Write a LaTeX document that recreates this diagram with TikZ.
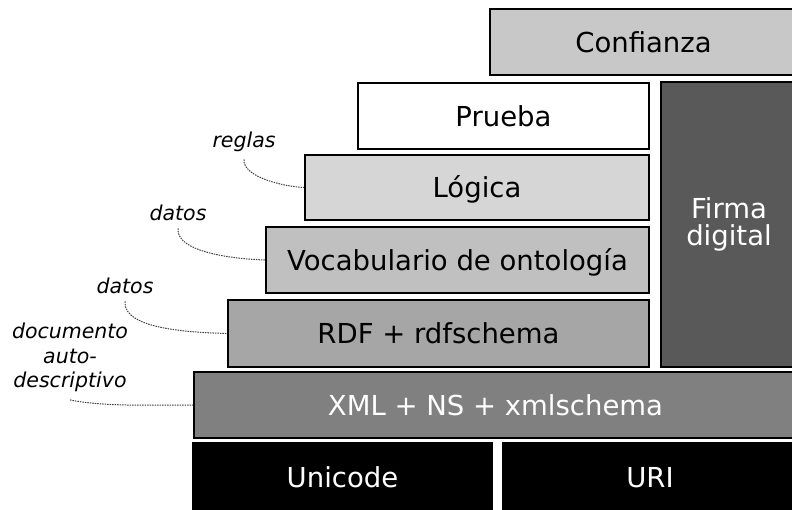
\documentclass[tikz,border=0pt]{standalone}
\usepackage{fontspec}
\setmainfont{DejaVu Sans}
\usepackage{tikz}

\definecolor{grisConf}{HTML}{C8C8C8}
\definecolor{grisLog}{HTML}{D6D6D6}
\definecolor{grisVoc}{HTML}{C0C0C0}
\definecolor{grisRdf}{HTML}{A6A6A6}
\definecolor{grisXml}{HTML}{808080}
\definecolor{grisFirma}{HTML}{595959}

\begin{document}
\begin{tikzpicture}[x=1pt, y=-1pt,
   capa/.style={draw=black, line width=2pt, inner sep=0pt,
      font=\fontsize{27.5}{27}\selectfont, align=center},
   linea/.style={text height=20pt, text depth=0pt},
   nota/.style={font=\fontsize{20.5}{24.5}\selectfont\itshape, align=center,
      inner sep=0pt, outer ysep=8pt},
   enlace/.style={dash pattern=on 1.5pt off 1pt, gray!50!black, line width=1pt}]
   \useasboundingbox (0,0) rectangle (792,509);
   \clip (0,0) rectangle (792,509);

   % capas
   \node[capa, linea, fill=grisConf, minimum width=307, minimum height=66] (confianza) at (643.5,42) {Confianza};
   \node[capa, linea, fill=white, minimum width=291, minimum height=66] (prueba) at (503.5,116) {Prueba};
   \node[capa, fill=grisFirma, text=white, minimum width=136, minimum height=285] (firma) at (729,224.5) {Firma\\digital};
   \node[capa, linea, fill=grisLog, minimum width=344, minimum height=65] (logica) at (477,187.5) {Lógica};
   \node[capa, linea, fill=grisVoc, minimum width=383, minimum height=66] (vocab) at (457.5,260) {Vocabulario de ontología};
   \node[capa, linea, fill=grisRdf, minimum width=421, minimum height=67] (rdf) at (438.5,333.5) {RDF + rdfschema};
   \node[capa, linea, fill=grisXml, text=white, minimum width=603, minimum height=66] (xml) at (495.5,405) {XML + NS + xmlschema};
   \node[capa, linea, fill=black, text=white, minimum width=299, minimum height=69] (unicode) at (342.5,477.5) {Unicode};
   \node[capa, linea, fill=black, text=white, minimum width=294, minimum height=69] (uri) at (650,477.5) {URI};

   % notas
   \node[nota] (reglas) at (244,141.5) {reglas};
   \node[nota] (datosA) at (178,212.5) {datos};
   \node[nota] (datosB) at (125,285.5) {datos};
   \node[nota] (doc) at (70,357.5) {documento\\auto-\\descriptivo};

   \draw[enlace] (reglas.south) to[out=-95, in=178, looseness=0.7] (logica.west);
   \draw[enlace] (datosA.south) to[out=-95, in=178, looseness=0.7] (vocab.west);
   \draw[enlace] (datosB.south) to[out=-95, in=178, looseness=0.7] (rdf.west);
   \draw[enlace] (doc.south) to[out=-12, in=180, looseness=0.7] (xml.west);
\end{tikzpicture}
\end{document}
